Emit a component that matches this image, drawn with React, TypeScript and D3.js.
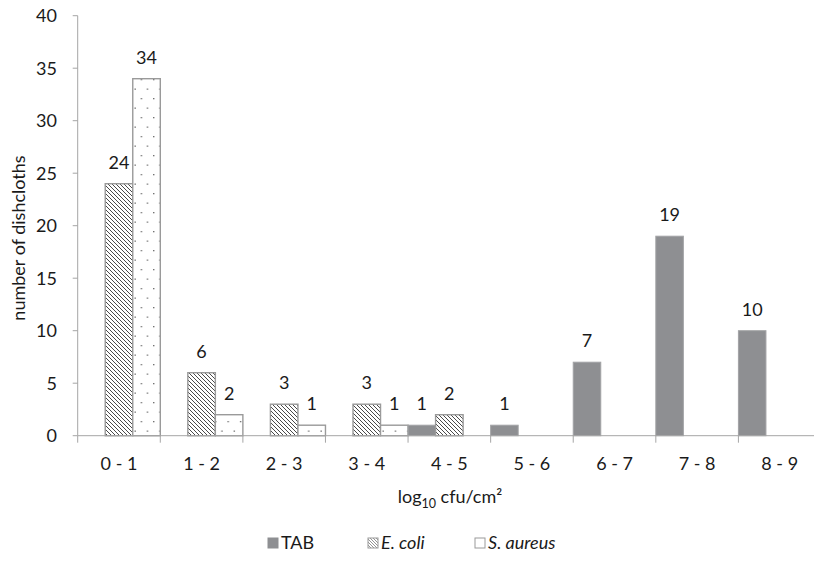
import React from "react";
import * as d3 from "d3";

const categories = ["0 - 1", "1 - 2", "2 - 3", "3 - 4", "4 - 5", "5 - 6", "6 - 7", "7 - 8", "8 - 9"];
const seriesNames = ["TAB", "E. coli", "S. aureus"];
const tabValues = [0, 0, 0, 0, 1, 1, 7, 19, 10];
const ecoliValues = [24, 6, 3, 3, 2, 0, 0, 0, 0];
const saureusValues = [34, 2, 1, 1, 0, 0, 0, 0, 0];
const yTicks = [0, 5, 10, 15, 20, 25, 30, 35, 40];

const W = 814;
const H = 561;
const FONT = "Lato, 'Open Sans', sans-serif";
const TEXT = "#1a1a1a";
const AXIS = "#a6a6a6";
const FS = 18;

export default function App() {
  const x = d3.scaleBand<string>().domain(categories).range([77.7, 821]).paddingInner(0).paddingOuter(0);
  const xs = d3.scaleBand<string>().domain(seriesNames).range([0, x.bandwidth()]).padding(0);
  const y = d3.scaleLinear().domain([0, 40]).range([435.7, 15.7]);

  const allSeries = [tabValues, ecoliValues, saureusValues];
  const fills = ["#8e8f92", "url(#hatch)", "url(#dots)"];
  const strokes = ["#a2a3a5", "#9a9a9a", "#9a9a9a"];

  const bars: any[] = [];
  categories.forEach((c, i) => {
    seriesNames.forEach((s, j) => {
      const v = allSeries[j][i];
      if (v > 0) bars.push({ c, s, v, j });
    });
  });

  const boundaries = categories.map((c) => x(c)!).concat([x(categories[categories.length - 1])! + x.bandwidth()]);

  const legendItems = [
    { name: "TAB", italic: false, fill: fills[0], stroke: "#8e8f92", sx: 268 },
    { name: "E. coli", italic: true, fill: "url(#hatchS)", stroke: "#9a9a9a", sx: 368 },
    { name: "S. aureus", italic: true, fill: "#fff", stroke: "#9a9a9a", sx: 475 },
  ];

  return (
    <svg width={W} height={H} style={{ position: "absolute", left: 0, top: 0, background: "#fff" }} fontFamily={FONT}>
      <defs>
        <pattern id="hatch" patternUnits="userSpaceOnUse" width="4" height="4">
          <rect width="4" height="4" fill="#fff" />
          <path d="M-1,-1 L5,5 M-1,3 L1,5 M3,-1 L5,1" stroke="#4a4a4a" strokeWidth="1" />
        </pattern>
        <pattern id="hatchS" patternUnits="userSpaceOnUse" width="3" height="3">
          <rect width="3" height="3" fill="#fff" />
          <path d="M-1,-1 L4,4 M-1,2 L1,4 M2,-1 L4,1" stroke="#666" strokeWidth="0.7" />
        </pattern>
        <pattern id="dots" patternUnits="userSpaceOnUse" width="12.4" height="19" x="77.7" y="0">
          <rect width="12.4" height="19" fill="#fff" />
          <rect x="1" y="3" width="1.3" height="1.3" fill="#666" />
          <rect x="7.2" y="12.5" width="1.3" height="1.3" fill="#666" />
        </pattern>
      </defs>

      {/* bars */}
      {bars.map((b, k) => (
        <rect
          key={k}
          x={x(b.c)! + xs(b.s)!}
          y={y(b.v)}
          width={xs.bandwidth()}
          height={y(0) - y(b.v)}
          fill={fills[b.j]}
          stroke={strokes[b.j]}
          strokeWidth={b.j === 0 ? 1 : 1.4}
        />
      ))}

      {/* y axis */}
      <line x1={77.7} x2={77.7} y1={y(40)} y2={y(0)} stroke={AXIS} strokeWidth={1} />
      {yTicks.map((t) => (
        <g key={t}>
          <line x1={72.7} x2={77.7} y1={y(t)} y2={y(t)} stroke={AXIS} strokeWidth={1} />
          <text x={57} y={y(t)} dy="0.36em" textAnchor="end" fontSize={FS} fill={TEXT}>
            {t}
          </text>
        </g>
      ))}

      {/* x axis */}
      <line x1={77.7} x2={821} y1={y(0)} y2={y(0)} stroke={AXIS} strokeWidth={1} />
      {boundaries.map((bx, i) => (
        <line key={i} x1={bx} x2={bx} y1={y(0)} y2={y(0) + 7} stroke={AXIS} strokeWidth={1} />
      ))}
      {categories.map((c) => (
        <text key={c} x={x(c)! + x.bandwidth() / 2} y={470} textAnchor="middle" fontSize={FS} fill={TEXT}>
          {c}
        </text>
      ))}

      {/* data labels */}
      {bars.map((b, k) => (
        <text
          key={"l" + k}
          x={x(b.c)! + xs(b.s)! + xs.bandwidth() / 2}
          y={y(b.v) - 15}
          textAnchor="middle"
          fontSize={FS}
          fill={TEXT}
        >
          {b.v}
        </text>
      ))}

      {/* axis titles */}
      <text x={450} y={503} textAnchor="middle" fontSize={FS} fill={TEXT}>
        log<tspan fontSize={12.5} dy={5}>10</tspan>
        <tspan dy={-5}> cfu/cm²</tspan>
      </text>
      <text transform={`translate(25,${238}) rotate(-90)`} textAnchor="middle" fontSize={FS} fill={TEXT}>
        number of dishcloths
      </text>

      {/* legend */}
      {legendItems.map((it) => (
        <g key={it.name}>
          <rect x={it.sx} y={538} width={10} height={10} fill={it.fill} stroke={it.stroke} strokeWidth={1} />
          <text x={it.sx + 13} y={549} fontSize={FS} fill={TEXT} fontStyle={it.italic ? "italic" : "normal"}>
            {it.name}
          </text>
        </g>
      ))}
    </svg>
  );
}
